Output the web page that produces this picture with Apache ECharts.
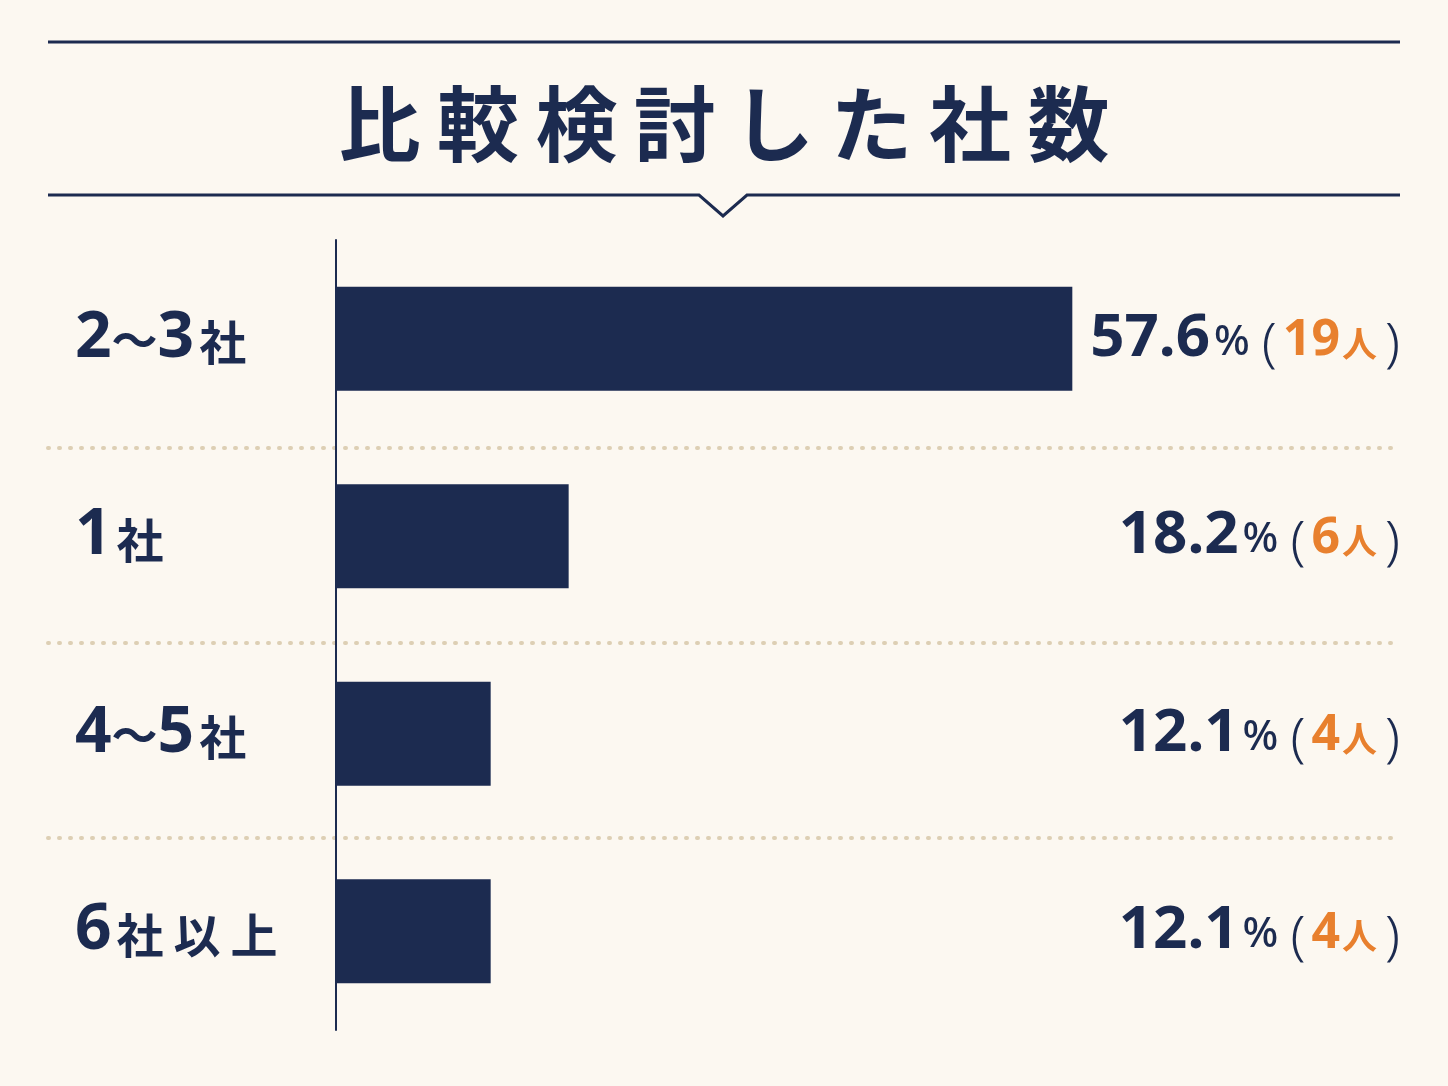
<!DOCTYPE html>
<html>
<head>
<meta charset="utf-8">
<script src="https://cdn.jsdelivr.net/npm/echarts@6/dist/echarts.min.js"></script>
<style>
  html, body { margin: 0; padding: 0; background: #fcf8f1; }
  #chart { width: 1448px; height: 1086px; }
</style>
</head>
<body>
<div id="chart"></div>
<script>
// 比較検討した社数
const categories = ["2~3社", "1社", "4~5社", "6社以上"];
const percents = [57.6, 18.2, 12.1, 12.1];
const counts = [19, 6, 4, 4];

const navy = "#1c2b50";
const orange = "#e8802e";
const sp = "\u2009";

// 左のラベル: 数字 / 〜 / 漢字 を分けて描く
function leftLabel(v) {
  let out = "";
  for (const ch of v) {
    if (/[0-9]/.test(ch)) out += "{n|" + ch + "}";
    else if (ch === "~") out += "{t|〜}";
    else out += "{s|" + ch + "}";
  }
  return out;
}

const chart = echarts.init(document.getElementById("chart"));
chart.setOption({
  backgroundColor: "#fcf8f1",
  title: {
    text: "比較検討した社数".split("").join(sp),
    left: "center",
    top: 72,
    textStyle: {
      fontSize: 82,
      lineHeight: 94,
      fontWeight: "bold",
      color: navy,
      fontFamily: "Noto Sans CJK JP"
    }
  },
  graphic: [
    {
      type: "polyline",
      shape: { points: [[48, 42], [1400, 42]] },
      style: { stroke: navy, lineWidth: 3, fill: null }
    },
    {
      type: "polyline",
      shape: { points: [[48, 195], [699, 195], [723, 216], [747, 195], [1400, 195]] },
      style: { stroke: navy, lineWidth: 3, fill: null }
    }
  ],
  grid: [
    { left: 336, top: 240, width: 767, height: 790 },
    { left: 48, top: 253, right: 48, height: 780 }
  ],
  xAxis: [
    { gridIndex: 0, type: "value", min: 0, max: 60, show: false },
    { gridIndex: 1, type: "value", min: 0, max: 1, show: false }
  ],
  yAxis: [
    {
      gridIndex: 0,
      type: "category",
      data: categories,
      inverse: true,
      axisLine: { lineStyle: { color: navy, width: 2 } },
      axisTick: { show: false },
      splitLine: { show: false },
      axisLabel: {
        align: "left",
        margin: 261,
        formatter: leftLabel,
        rich: {
          n: { fontSize: 64, fontWeight: "bold", color: navy, fontFamily: "Noto Sans", verticalAlign: "bottom" },
          t: { fontSize: 46, fontWeight: "bold", color: navy, fontFamily: "Noto Sans CJK JP", padding: [0, 0, 8, 0], verticalAlign: "bottom" },
          s: { fontSize: 47, fontWeight: "bold", color: navy, fontFamily: "Noto Sans CJK JP", padding: [0, 5, 5, 5], verticalAlign: "bottom" }
        }
      }
    },
    {
      gridIndex: 0,
      type: "category",
      position: "right",
      data: categories,
      inverse: true,
      axisLine: { show: false },
      axisTick: { show: false },
      axisLabel: {
        align: "right",
        margin: 297,
        formatter: function (v, i) {
          return "{p|" + percents[i] + "}{u|%}{l|(}{c|" + counts[i] + "}{k|人}{r|)}";
        },
        rich: {
          p: { fontSize: 60, fontWeight: "bold", color: navy, fontFamily: "Noto Sans", verticalAlign: "bottom" },
          u: { fontSize: 42, fontWeight: 500, color: navy, fontFamily: "Noto Sans", padding: [0, 0, 5, 4], verticalAlign: "bottom" },
          l: { fontSize: 54, fontWeight: 300, color: navy, fontFamily: "Noto Sans", padding: [0, 6, -4, 12], verticalAlign: "bottom" },
          r: { fontSize: 54, fontWeight: 300, color: navy, fontFamily: "Noto Sans", padding: [0, 0, -4, 8], verticalAlign: "bottom" },
          c: { fontSize: 50, fontWeight: "bold", color: orange, fontFamily: "Noto Sans", padding: [0, 0, 3, 0], verticalAlign: "bottom" },
          k: { fontSize: 35, fontWeight: "bold", color: orange, fontFamily: "Noto Sans CJK JP", padding: [0, 0, 8, 2], verticalAlign: "bottom" }
        }
      }
    },
    {
      gridIndex: 1,
      type: "category",
      data: categories,
      inverse: true,
      axisLine: { show: false },
      axisTick: { show: false },
      axisLabel: { show: false },
      splitLine: {
        show: true,
        showMinLine: false,
        showMaxLine: false,
        lineStyle: { color: "#ddcfb4", width: 4, type: [1, 10], cap: "round" }
      }
    }
  ],
  series: [
    {
      type: "bar",
      xAxisIndex: 0,
      yAxisIndex: 0,
      data: percents,
      barWidth: 104,
      itemStyle: { color: navy },
      z: 3
    }
  ]
});
</script>
</body>
</html>
